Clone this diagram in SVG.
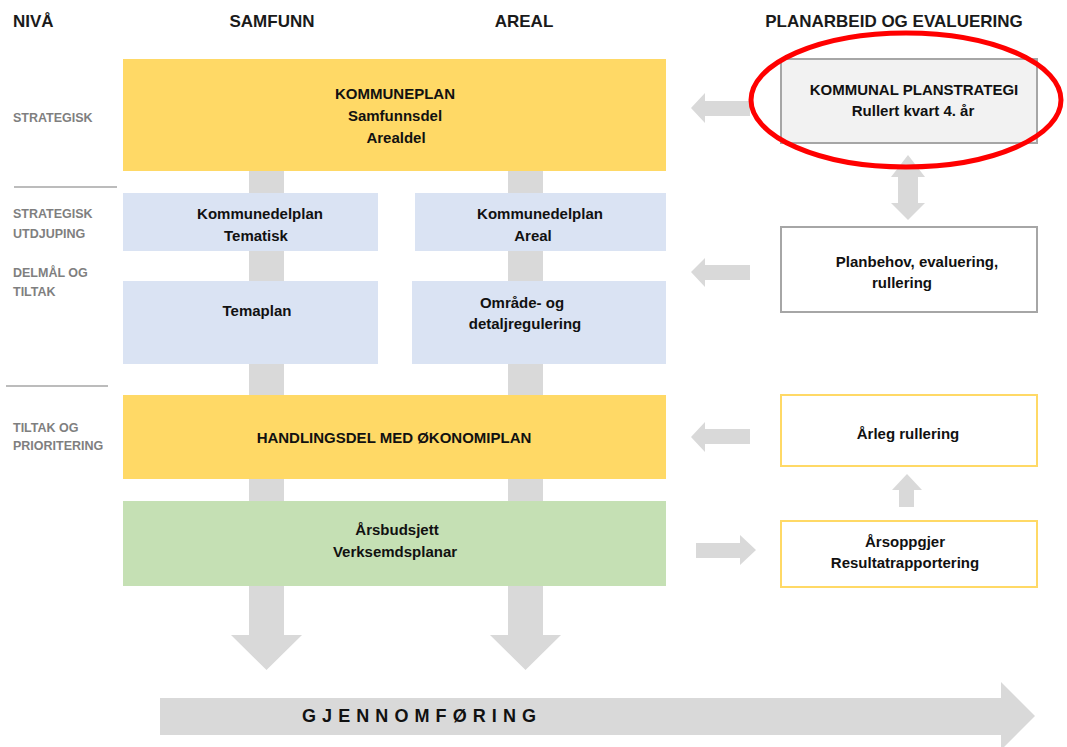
<svg xmlns="http://www.w3.org/2000/svg" width="1067" height="747" viewBox="0 0 1067 747">
<style>
text{font-family:"Liberation Sans",Arial,sans-serif;font-weight:bold;}
.hd{font-size:17px;fill:#1a1a1a;}
.lv{font-size:12.5px;fill:#7f7f7f;}
.bx{font-size:15px;fill:#111;text-anchor:middle;}
.arr{fill:#d9d9d9;}
.yel{fill:#ffd966;}
.blu{fill:#dae3f3;}
.grn{fill:#c5e0b4;}
.sep{stroke:#a6a6a6;stroke-width:1.5;}
</style>
<rect width="1067" height="747" fill="#fff"/>
<g id="headers">
<text class="hd" x="13" y="27">NIVÅ</text>
<text class="hd" x="272" y="27" text-anchor="middle">SAMFUNN</text>
<text class="hd" x="524" y="27" text-anchor="middle">AREAL</text>
<text class="hd" x="894" y="27" text-anchor="middle">PLANARBEID OG EVALUERING</text>
</g>
<g id="levels">
<text class="lv" x="13" y="122">STRATEGISK</text>
<line class="sep" x1="14" y1="187" x2="117" y2="187"/>
<text class="lv" x="13" y="218">STRATEGISK</text>
<text class="lv" x="13" y="238">UTDJUPING</text>
<text class="lv" x="13" y="277">DELMÅL OG</text>
<text class="lv" x="13" y="296">TILTAK</text>
<line class="sep" x1="6" y1="386" x2="108" y2="386"/>
<text class="lv" x="13" y="432">TILTAK OG</text>
<text class="lv" x="13" y="450">PRIORITERING</text>
</g>
<g id="connectors">
<path class="arr" d="M249,171 H284 V635 H302 L266.5,670 L231,635 H249 Z"/>
<path class="arr" d="M508,171 H543 V635 H561 L525.5,670 L490,635 H508 Z"/>
<path class="arr" d="M160,698 H1001 V682 L1035,716 L1001,750 V735 H160 Z"/>
<path class="arr" d="M750,101 H705 V93 L691,108 L705,123 V116 H750 Z"/>
<path class="arr" d="M750,265 H705 V258 L691,272 L705,287 V280 H750 Z"/>
<path class="arr" d="M750,429 H705 V422 L691,437 L705,452 V444 H750 Z"/>
<path class="arr" d="M696,543 H740 V535 L756,550 L740,565 V558 H696 Z"/>
<path class="arr" d="M908,155 L925,177 H918 V203 H925 L908,220 L891,203 H898 V177 H891 Z"/>
<path class="arr" d="M907,474 L922,490 H914 V507 H899 V490 H892 Z"/>
<text x="302" y="722" font-size="18" fill="#111" textLength="234" lengthAdjust="spacing">GJENNOMFØRING</text>
</g>
<g id="kommuneplan">
<rect class="yel" x="123" y="59" width="543" height="112"/>
<text class="bx" x="395" y="99">KOMMUNEPLAN</text>
<text class="bx" x="395" y="121">Samfunnsdel</text>
<text class="bx" x="396" y="143">Arealdel</text>
</g>
<g id="kdp-tematisk">
<rect class="blu" x="123" y="193" width="255" height="58"/>
<text class="bx" x="260" y="219">Kommunedelplan</text>
<text class="bx" x="256" y="241">Tematisk</text>
</g>
<g id="kdp-areal">
<rect class="blu" x="415" y="193" width="251" height="58"/>
<text class="bx" x="540" y="219">Kommunedelplan</text>
<text class="bx" x="533" y="241">Areal</text>
</g>
<g id="temaplan">
<rect class="blu" x="123" y="281" width="255" height="83"/>
<text class="bx" x="257" y="316">Temaplan</text>
</g>
<g id="regulering">
<rect class="blu" x="412" y="281" width="254" height="83"/>
<text class="bx" x="522" y="308">Område- og</text>
<text class="bx" x="525" y="329">detaljregulering</text>
</g>
<g id="handlingsdel">
<rect class="yel" x="123" y="395" width="543" height="84"/>
<text class="bx" x="394" y="443">HANDLINGSDEL MED ØKONOMIPLAN</text>
</g>
<g id="budsjett">
<rect class="grn" x="123" y="501" width="543" height="85"/>
<text class="bx" x="397" y="535">Årsbudsjett</text>
<text class="bx" x="395" y="557">Verksemdsplanar</text>
</g>
<g id="planstrategi">
<rect x="781" y="59" width="256" height="84" fill="#f2f2f2" stroke="#a6a6a6" stroke-width="2"/>
<text class="bx" x="914" y="95">KOMMUNAL PLANSTRATEGI</text>
<text class="bx" x="913" y="116">Rullert kvart 4. år</text>
<ellipse cx="906" cy="100" rx="155" ry="67" fill="none" stroke="#ff0000" stroke-width="5"/>
</g>
<g id="planbehov">
<rect x="781" y="227" width="256" height="85" fill="#fff" stroke="#a6a6a6" stroke-width="2"/>
<text class="bx" x="917" y="267">Planbehov, evaluering,</text>
<text class="bx" x="902" y="288">rullering</text>
</g>
<g id="arleg">
<rect x="781" y="395" width="256" height="71" fill="#fff" stroke="#ffd966" stroke-width="2"/>
<text class="bx" x="908" y="439">Årleg rullering</text>
</g>
<g id="arsoppgjer">
<rect x="781" y="521" width="256" height="66" fill="#fff" stroke="#ffd966" stroke-width="2"/>
<text class="bx" x="905" y="547">Årsoppgjer</text>
<text class="bx" x="905" y="568">Resultatrapportering</text>
</g>
</svg>
